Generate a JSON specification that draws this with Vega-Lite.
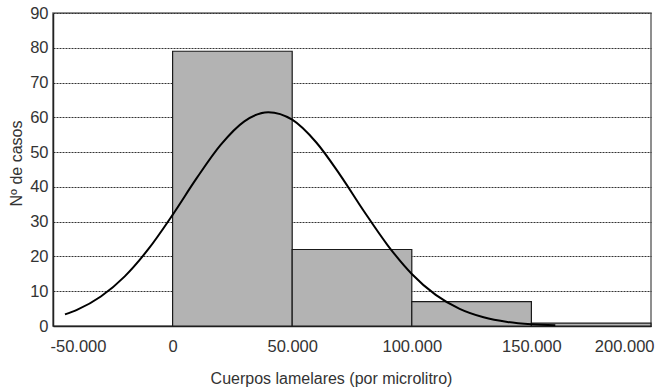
{
  "$schema": "https://vega.github.io/schema/vega-lite/v6.json",
  "width": 598,
  "height": 313,
  "autosize": {"type": "none"},
  "padding": {"left": 53, "top": 13, "right": 5, "bottom": 63},
  "background": "white",
  "config": {
    "font": "Liberation Sans",
    "view": {"stroke": "#6b6b6b", "strokeWidth": 1.5},
    "axis": {
      "labelFont": "Liberation Sans",
      "titleFont": "Liberation Sans",
      "labelFontSize": 16.5,
      "titleFontSize": 16,
      "titleFontWeight": "normal",
      "labelColor": "#333333",
      "titleColor": "#333333",
      "ticks": false,
      "domainColor": "#222222",
      "domainWidth": 1.5,
      "labelOverlap": false
    }
  },
  "datasets": {
    "bins": [
      {"bin_start": 0, "bin_end": 50000, "count": 79},
      {"bin_start": 50000, "bin_end": 100000, "count": 22},
      {"bin_start": 100000, "bin_end": 150000, "count": 7},
      {"bin_start": 150000, "bin_end": 200000, "count": 0.8}
    ],
    "curve": [
      {"bin_start": -45000, "count": 3.33},
      {"bin_start": -40000, "count": 4.63},
      {"bin_start": -30000, "count": 8.47},
      {"bin_start": -20000, "count": 14.28},
      {"bin_start": -10000, "count": 22.23},
      {"bin_start": 0, "count": 31.96},
      {"bin_start": 10000, "count": 42.43},
      {"bin_start": 20000, "count": 52.0},
      {"bin_start": 30000, "count": 58.85},
      {"bin_start": 40000, "count": 61.49},
      {"bin_start": 50000, "count": 59.32},
      {"bin_start": 60000, "count": 52.84},
      {"bin_start": 70000, "count": 43.46},
      {"bin_start": 80000, "count": 33.0},
      {"bin_start": 90000, "count": 23.14},
      {"bin_start": 100000, "count": 14.97},
      {"bin_start": 110000, "count": 8.95},
      {"bin_start": 120000, "count": 4.94},
      {"bin_start": 130000, "count": 2.52},
      {"bin_start": 140000, "count": 1.18},
      {"bin_start": 150000, "count": 0.51},
      {"bin_start": 160000, "count": 0.21}
    ]
  },
  "encoding": {
    "x": {
      "field": "bin_start",
      "type": "quantitative",
      "scale": {"domain": [-50000, 200000], "nice": false, "zero": false},
      "axis": {
        "values": [-50000, 0, 50000, 100000, 150000, 200000],
        "labelExpr": "replace(replace(format(datum.value, ','), ',', '.'), '\u2212', '-')",
        "labelFlush": true,
        "labelFlushOffset": 3,
        "labelPadding": 12,
        "grid": false,
        "title": "Cuerpos lamelares (por microlitro)",
        "titleX": 278,
        "titleY": 57,
        "titleBaseline": "alphabetic",
        "titleAlign": "center"
      }
    },
    "y": {
      "field": "count",
      "type": "quantitative",
      "scale": {"domain": [0, 90], "nice": false},
      "axis": {
        "values": [0, 10, 20, 30, 40, 50, 60, 70, 80, 90],
        "labelPadding": 5,
        "grid": true,
        "gridColor": "#333333",
        "gridDash": [2, 1],
        "gridWidth": 1,
        "title": "Nº de casos",
        "titleX": -37,
        "titleY": 150,
        "titleAngle": -90,
        "titleBaseline": "middle",
        "titleAlign": "center"
      }
    }
  },
  "layer": [
    {
      "data": {"name": "bins"},
      "mark": {"type": "bar", "fill": "#b3b3b3", "stroke": "#1a1a1a", "strokeWidth": 1.2},
      "encoding": {
        "x2": {"field": "bin_end"},
        "y2": {"datum": 0}
      }
    },
    {
      "data": {"name": "curve"},
      "mark": {"type": "line", "color": "black", "strokeWidth": 2, "interpolate": "monotone"},
      "encoding": {}
    }
  ]
}
